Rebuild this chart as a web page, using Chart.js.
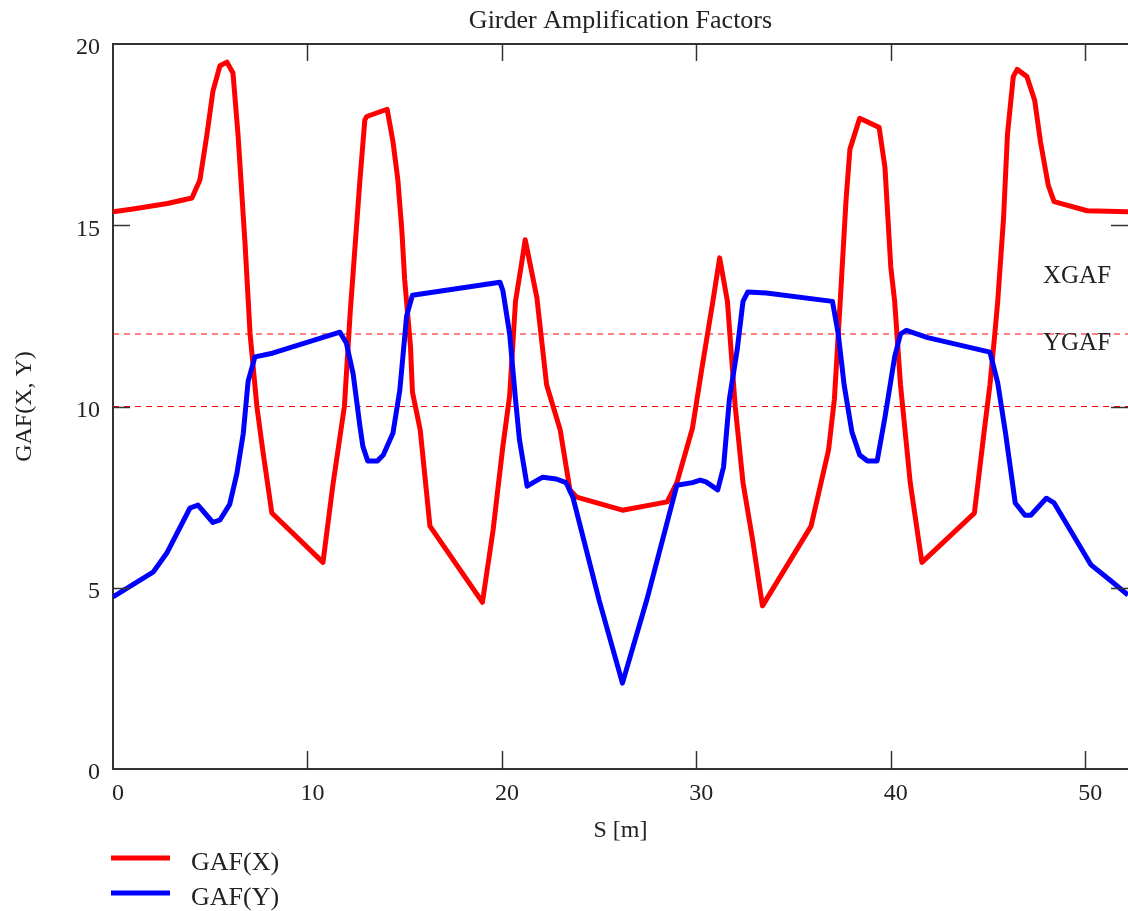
<!DOCTYPE html>
<html>
<head>
<meta charset="utf-8">
<script src="https://cdn.jsdelivr.net/npm/chart.js@4/dist/chart.umd.min.js"></script>
<style>
  html, body { margin: 0; padding: 0; background: #fff; }
  #c { display: block; }
</style>
</head>
<body>
<canvas id="c" width="1128" height="911"></canvas>
<script>
// ---- data ----
const chartTitle = 'Girder Amplification Factors';
const xAxisTitle = 'S [m]';
const yAxisTitle = 'GAF(X, Y)';
const xTickValues = [0, 10, 20, 30, 40, 50];
const yTickValues = [0, 5, 10, 15, 20];
const sMax = 52.2;

const sX = [0, 1.03, 2.8, 4.06, 4.47, 4.83, 5.14, 5.5, 5.86, 6.17, 6.43, 6.79, 7.05, 7.4, 7.7, 8.17,
  10.8, 11.3, 11.9, 12.2, 12.7, 12.95, 13.05, 14.1, 14.4, 14.65, 14.85, 15.0, 15.3, 15.4, 15.8, 16.3,
  19.0, 19.55, 20.05, 20.4, 20.7, 21.0, 21.2, 21.8, 22.3, 23.0, 23.5, 23.85, 26.2, 28.5, 29.0, 29.8,
  30.3, 30.85, 31.2, 31.6, 32.0, 32.4, 32.9, 33.4, 35.9, 36.8, 37.1, 37.4, 37.7, 37.9, 38.4, 39.4,
  39.7, 40.0, 40.2, 40.5, 41.0, 41.6, 44.3, 44.8, 45.1, 45.35, 45.5, 45.8, 46.0, 46.3, 46.5, 47.0,
  47.4, 47.7, 48.1, 48.4, 50.1, 52.2];
const gafX = [15.37, 15.45, 15.6, 15.75, 16.25, 17.5, 18.7, 19.4, 19.5, 19.2, 17.5, 14.5, 12.0, 10.0, 8.8, 7.06,
  5.7, 7.8, 10.0, 12.6, 16.25, 17.9, 18.0, 18.2, 17.3, 16.25, 14.9, 13.5, 11.65, 10.4, 9.35, 6.7,
  4.6, 6.6, 8.9, 10.3, 12.9, 13.9, 14.6, 13.0, 10.6, 9.35, 7.7, 7.5, 7.14, 7.37, 7.9, 9.4,
  11.1, 12.9, 14.1, 12.9, 10.0, 7.9, 6.3, 4.5, 6.7, 8.8, 10.2, 12.9, 15.7, 17.1, 17.95, 17.7,
  16.6, 13.85, 12.9, 10.6, 7.9, 5.7, 7.06, 9.3, 10.6, 12.0, 12.9, 15.2, 17.5, 19.1, 19.3, 19.1,
  18.45, 17.3, 16.1, 15.65, 15.4, 15.37];

const sY = [0, 2.06, 2.76, 3.96, 4.37, 5.14, 5.5, 6.0, 6.37, 6.7, 6.95, 7.3, 8.2, 11.67, 12.0, 12.35,
  12.7, 12.85, 13.1, 13.6, 13.9, 14.4, 14.75, 15.1, 15.4, 19.9, 20.05, 20.4, 20.7, 20.9, 21.3, 21.6,
  22.1, 22.8, 23.3, 23.65, 25.0, 26.2, 27.45, 29.0, 29.8, 30.2, 30.5, 31.1, 31.4, 31.7, 32.1, 32.4,
  32.65, 33.6, 37.0, 37.3, 37.6, 38.0, 38.4, 38.8, 39.3, 39.7, 40.2, 40.5, 40.8, 41.9, 45.1, 45.5,
  45.9, 46.4, 46.9, 47.2, 48.0, 48.4, 50.3, 51.3, 52.2];
const gafY = [4.75, 5.43, 5.95, 7.2, 7.28, 6.8, 6.87, 7.3, 8.15, 9.26, 10.7, 11.37, 11.47, 12.05, 11.75, 10.9,
  9.45, 8.9, 8.5, 8.5, 8.66, 9.27, 10.45, 12.5, 13.07, 13.43, 13.2, 12.0, 10.2, 9.1, 7.8, 7.9,
  8.05, 8.0, 7.9, 7.5, 4.66, 2.37, 4.66, 7.83, 7.9, 7.97, 7.92, 7.7, 8.33, 10.2, 11.56, 12.9,
  13.16, 13.13, 12.9, 12.0, 10.6, 9.3, 8.66, 8.5, 8.5, 9.7, 11.37, 12.0, 12.1, 11.9, 11.5, 10.65,
  9.27, 7.34, 7.0, 7.0, 7.47, 7.34, 5.63, 5.2, 4.8];

const seriesLabels = ['GAF(X)', 'GAF(Y)'];
const seriesColors = ['#ff0000', '#0000ff'];

// horizontal marker lines and their labels
const markerValues = [12, 10];
const markerLabels = ['XGAF', 'YGAF'];
const markerLabelAt = [13.6, 11.75];

// ---- build chart ----
const FONT = 'Liberation Serif';
const TEXT = '#222';
const AXIS = '#333';

function pts(xs, ys) { return xs.map((x, i) => ({ x: x, y: ys[i] })); }

const datasets = [
  { label: seriesLabels[0], data: pts(sX, gafX), borderColor: seriesColors[0], borderWidth: 5 },
  { label: seriesLabels[1], data: pts(sY, gafY), borderColor: seriesColors[1], borderWidth: 5 }
];
markerValues.forEach((v, i) => {
  datasets.push({
    label: markerLabels[i], data: [{ x: 0, y: v }, { x: sMax, y: v }],
    borderColor: '#ff0000', borderWidth: 1, borderDash: [6, 5]
  });
});
datasets.forEach(d => {
  d.pointRadius = 0; d.tension = 0; d.fill = false;
  d.borderJoinStyle = 'round'; d.borderCapStyle = 'butt';
});
datasets[0].order = 1; datasets[1].order = 0;
datasets[2].order = 5; datasets[3].order = 5;

const framePlugin = {
  id: 'frame',
  afterDatasetsDraw(chart) {
    const { ctx, chartArea: a, scales: { x, y } } = chart;
    ctx.save();
    ctx.strokeStyle = AXIS;
    ctx.lineWidth = 2;
    ctx.beginPath(); ctx.moveTo(a.left, a.top); ctx.lineTo(a.right + 2, a.top); ctx.stroke();
    ctx.lineWidth = 1.5;
    x.ticks.forEach(t => {
      if (t.value <= x.min || t.value >= x.max) return;
      const px = Math.round(x.getPixelForValue(t.value)) + 0.5;
      ctx.beginPath(); ctx.moveTo(px, a.bottom); ctx.lineTo(px, a.bottom - 18); ctx.stroke();
      ctx.beginPath(); ctx.moveTo(px, a.top); ctx.lineTo(px, a.top + 17); ctx.stroke();
    });
    y.ticks.forEach(t => {
      if (t.value <= y.min || t.value >= y.max) return;
      const py = Math.round(y.getPixelForValue(t.value)) + 0.5;
      ctx.beginPath(); ctx.moveTo(a.left, py); ctx.lineTo(a.left + 17, py); ctx.stroke();
      ctx.beginPath(); ctx.moveTo(a.right, py); ctx.lineTo(a.right - 17, py); ctx.stroke();
    });
    ctx.fillStyle = TEXT;
    ctx.font = '25px "' + FONT + '"';
    ctx.textAlign = 'left';
    ctx.textBaseline = 'middle';
    markerLabels.forEach((lab, i) => {
      ctx.fillText(lab, a.right - 85, y.getPixelForValue(markerLabelAt[i]));
    });
    ctx.font = '26px "' + FONT + '"';
    seriesLabels.forEach((lab, i) => {
      const ly = a.bottom + 89 + i * 35;
      ctx.strokeStyle = seriesColors[i];
      ctx.lineWidth = 5;
      ctx.beginPath(); ctx.moveTo(a.left - 2, ly); ctx.lineTo(a.left + 57, ly); ctx.stroke();
      ctx.fillStyle = TEXT;
      ctx.fillText(lab, a.left + 78, ly + 5);
    });
    ctx.restore();
  }
};

new Chart(document.getElementById('c'), {
  type: 'line',
  data: { datasets: datasets },
  plugins: [framePlugin],
  options: {
    responsive: false,
    animation: false,
    layout: { padding: 0 },
    plugins: {
      legend: { display: false },
      tooltip: { enabled: false },
      title: {
        display: true, text: chartTitle, fullSize: false,
        font: { family: FONT, size: 26, weight: 'normal' }, color: TEXT,
        padding: { top: 6, bottom: 6.8 }
      }
    },
    scales: {
      x: {
        type: 'linear', min: 0, max: sMax,
        afterBuildTicks(s) { s.ticks = xTickValues.map(v => ({ value: v })); },
        ticks: { labelOffset: 5, padding: 10, color: TEXT,
          font: { family: FONT, size: 24 }, maxRotation: 0 },
        grid: { display: false, drawTicks: false },
        border: { display: true, color: AXIS, width: 2 },
        title: { display: true, text: xAxisTitle, color: TEXT,
          font: { family: FONT, size: 24 }, padding: { top: 0, bottom: 65.6 } },
        afterFit(s) { s.height = 142; }
      },
      y: {
        type: 'linear', min: 0, max: 20,
        afterBuildTicks(s) { s.ticks = yTickValues.map(v => ({ value: v })); },
        ticks: { labelOffset: 4, padding: 13, color: TEXT,
          font: { family: FONT, size: 24 } },
        grid: { display: false, drawTicks: false },
        border: { display: true, color: AXIS, width: 2 },
        title: { display: true, text: yAxisTitle, color: TEXT,
          font: { family: FONT, size: 24 }, padding: { top: 10, bottom: 0 } },
        afterFit(s) { s.width = 113; }
      }
    }
  }
});
</script>
</body>
</html>
